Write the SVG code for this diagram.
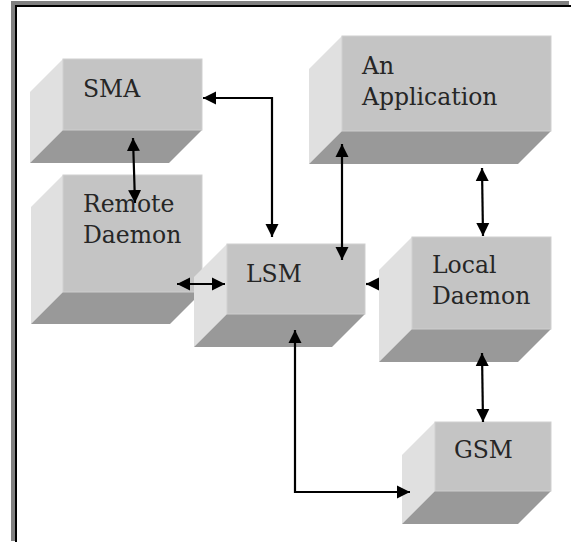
<svg xmlns="http://www.w3.org/2000/svg" width="571" height="542" viewBox="0 0 571 542">
<style>
.front{fill:#c4c4c4;stroke:#cfcfcf;stroke-width:1}
.side{fill:#e0e0e0}
.bottom{fill:#999999}
.lbl{font-family:"DejaVu Serif",serif;font-size:23.5px;fill:#262626}
.conn{fill:none;stroke:#000;stroke-width:2.2}
</style>
<defs>
<marker id="ah" markerUnits="userSpaceOnUse" markerWidth="15" markerHeight="15" refX="13" refY="7.5" orient="auto-start-reverse">
<path d="M0,1 L13,7.5 L0,14 z" fill="#000"/>
</marker>
</defs>
<rect width="571" height="542" fill="#fff"/>
<g id="frame">
<rect x="11" y="1" width="558" height="4" fill="#808080"/>
<rect x="11" y="1" width="4" height="540" fill="#808080"/>
<rect x="15" y="5" width="556" height="2" fill="#000"/>
<rect x="15" y="5" width="2" height="537" fill="#000"/>
</g>
<g id="sma">
<polygon class="side" points="63,59 63,130 30,163 30,92"/>
<polygon class="bottom" points="63,130 202,130 169,163 30,163"/>
<rect class="front" x="63" y="59" width="139" height="71"/>
<text class="lbl" x="83" y="97">SMA</text>
</g>
<g id="app">
<polygon class="side" points="342,36 342,131 309,164 309,69"/>
<polygon class="bottom" points="342,131 551,131 518,164 309,164"/>
<rect class="front" x="342" y="36" width="209" height="95"/>
<text class="lbl" x="362" y="74">An</text>
<text class="lbl" x="362" y="105">Application</text>
</g>
<g id="remote">
<polygon class="side" points="63,175 63,292 31,324 31,207"/>
<polygon class="bottom" points="63,292 202,292 170,324 31,324"/>
<rect class="front" x="63" y="175" width="139" height="117"/>
<text class="lbl" x="83" y="212">Remote</text>
<text class="lbl" x="83" y="243">Daemon</text>
</g>
<g id="lsm">
<polygon class="side" points="227,244 227,314 194,347 194,277"/>
<polygon class="bottom" points="227,314 365,314 332,347 194,347"/>
<rect class="front" x="227" y="244" width="138" height="70"/>
<text class="lbl" x="246" y="282">LSM</text>
</g>
<g id="local">
<polygon class="side" points="412,237 412,329 379,362 379,270"/>
<polygon class="bottom" points="412,329 551,329 518,362 379,362"/>
<rect class="front" x="412" y="237" width="139" height="92"/>
<text class="lbl" x="432" y="273">Local</text>
<text class="lbl" x="432" y="304">Daemon</text>
</g>
<g id="gsm">
<polygon class="side" points="435,422 435,491 402,524 402,455"/>
<polygon class="bottom" points="435,491 551,491 518,524 402,524"/>
<rect class="front" x="435" y="422" width="116" height="69"/>
<text class="lbl" x="454" y="458">GSM</text>
</g>
<g id="connectors">
<path class="conn" d="M133,138 L135,203" marker-start="url(#ah)" marker-end="url(#ah)"/>
<path class="conn" d="M203,98 H272 V237" marker-start="url(#ah)" marker-end="url(#ah)"/>
<path class="conn" d="M177,284 H225" marker-start="url(#ah)" marker-end="url(#ah)"/>
<path class="conn" d="M342,144 V260" marker-start="url(#ah)" marker-end="url(#ah)"/>
<path class="conn" d="M482,168 L483,236" marker-start="url(#ah)" marker-end="url(#ah)"/>
<path class="conn" d="M378,284 H366" marker-end="url(#ah)"/>
<path class="conn" d="M295,330 V492 H410" marker-start="url(#ah)" marker-end="url(#ah)"/>
<path class="conn" d="M482,353 L483,422" marker-start="url(#ah)" marker-end="url(#ah)"/>
</g>
</svg>
